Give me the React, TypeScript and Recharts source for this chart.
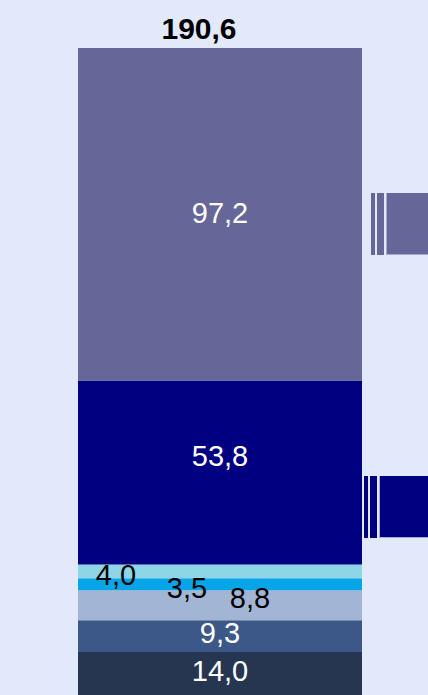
import { BarChart, Bar, XAxis, YAxis, LabelList, Legend } from "recharts"

const categories = ["Total"]
const seriesNames = ["s1", "s2", "s3", "s4", "s5", "s6", "s7"]
const seriesValues = [14.0, 9.3, 8.8, 3.5, 4.0, 53.8, 97.2]
const seriesLabels = ["14,0", "9,3", "8,8", "3,5", "4,0", "53,8", "97,2"]
const totalLabel = "190,6"
const legendSeries = ["s7", "s6"]

const colors = ["#263651", "#3c5888", "#a3b5d5", "#06a5e8", "#8ed5e7", "#000080", "#666699"]
const labelColors = ["#fff", "#fff", "#000", "#000", "#000", "#fff", "#fff"]
// label nudges so the small segments don't collide
const labelShift = [
  [0, -5],
  [0, -3],
  [30, -7],
  [-33, 4],
  [-104, 4],
  [0, -17],
  [0, -1],
]

const data = categories.map((c) => {
  const row: Record<string, string | number> = { name: c }
  seriesNames.forEach((s, i) => (row[s] = seriesValues[i]))
  return row
})
const total = seriesValues.reduce((a, b) => a + b, 0)

const font = "'Liberation Sans', Arial, sans-serif"

function SegLabel(i: number) {
  // eslint-disable-next-line @typescript-eslint/no-explicit-any
  return (props: any) => {
    const { x, y, width, height } = props
    const [dx, dy] = labelShift[i]
    return (
      <text
        x={x + width / 2 + dx}
        y={y + height / 2 + dy}
        textAnchor="middle"
        dominantBaseline="central"
        fill={labelColors[i]}
        fontSize={29}
        fontFamily={font}
      >
        {seriesLabels[i]}
      </text>
    )
  }
}

// eslint-disable-next-line @typescript-eslint/no-explicit-any
function TotalLabel(props: any) {
  const { x, y, width } = props
  return (
    <text
      x={x + width / 2 - 21}
      y={y - 20}
      textAnchor="middle"
      dominantBaseline="central"
      fill="#000"
      fontSize={30}
      fontWeight="bold"
      fontFamily={font}
    >
      {totalLabel}
    </text>
  )
}

const legendPos = [
  { top: 193, left: 371 },
  { top: 476, left: 364 },
]

// eslint-disable-next-line @typescript-eslint/no-explicit-any
function LegendBlocks({ payload }: any) {
  // eslint-disable-next-line @typescript-eslint/no-explicit-any
  const items = legendSeries.map((k) => (payload || []).find((p: any) => p.dataKey === k)).filter(Boolean)
  return (
    <div>
      {/* eslint-disable-next-line @typescript-eslint/no-explicit-any */}
      {items.map((it: any, i: number) => (
        <div
          key={it.dataKey}
          style={{
            position: "absolute",
            top: legendPos[i].top,
            left: legendPos[i].left,
            height: 62,
            width: 80,
            display: "flex",
          }}
        >
          <div style={{ width: 4, background: it.color, marginRight: 2 }} />
          <div style={{ width: 7, background: it.color, marginRight: 2 }} />
          <div
            style={{
              flex: 1,
              background: it.color,
              borderLeft: "1px solid #a9a9d6",
              borderBottom: "1px solid #a9a9d6",
            }}
          />
        </div>
      ))}
    </div>
  )
}

export default function App() {
  return (
    <div
      style={{
        position: "fixed",
        left: 0,
        top: 0,
        width: 428,
        height: 695,
        overflow: "hidden",
        background: "#e1e9fa",
        fontFamily: font,
      }}
    >
      <BarChart
        width={428}
        height={712}
        data={data}
        margin={{ top: 48, right: 0, bottom: 12, left: 12 }}
        style={{ position: "absolute", left: 0, top: 0 }}
      >
        <XAxis dataKey="name" hide />
        <YAxis hide domain={[0, total]} />
        <Legend
          content={<LegendBlocks />}
          wrapperStyle={{ position: "absolute", left: 0, top: 0, width: 0, height: 0 }}
        />
        {seriesNames.map((s, i) => (
          <Bar key={s} dataKey={s} stackId="a" fill={colors[i]} barSize={284} isAnimationActive={false}>
            <LabelList dataKey={s} content={SegLabel(i)} />
            {i === seriesNames.length - 1 && <LabelList dataKey={s} content={TotalLabel} />}
          </Bar>
        ))}
      </BarChart>
    </div>
  )
}
